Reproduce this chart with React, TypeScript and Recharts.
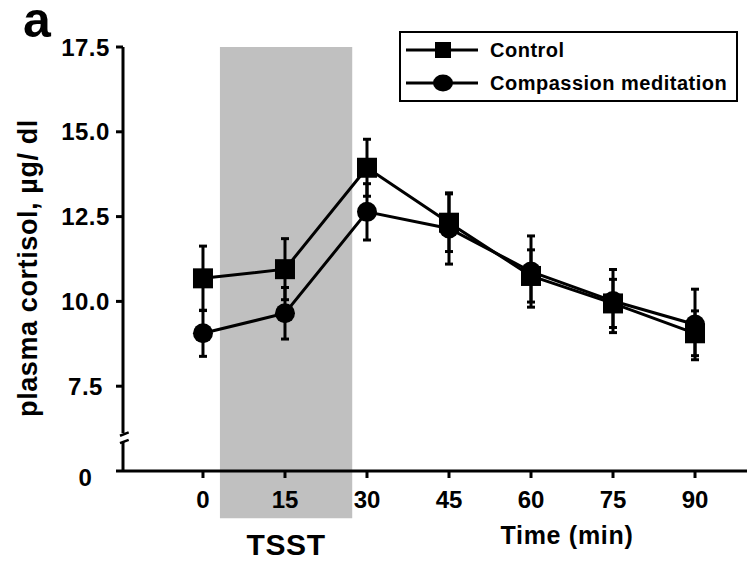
import React from 'react';
import {
  ComposedChart,
  Line,
  XAxis,
  YAxis,
  ErrorBar,
  ReferenceArea,
  ReferenceLine,
  Legend,
} from 'recharts';

// ---- data ----
const times = [0, 15, 30, 45, 60, 75, 90];
const controlMean = [10.68, 10.95, 13.94, 12.32, 10.75, 9.94, 9.06];
const controlSem = [0.95, 0.9, 0.84, 0.85, 0.77, 0.71, 0.66];
const compassionMean = [9.06, 9.65, 12.64, 12.15, 10.88, 10.01, 9.32];
const compassionSem = [0.68, 0.76, 0.83, 1.05, 1.05, 0.93, 1.04];

const xTicks = [0, 15, 30, 45, 60, 75, 90];
// broken axis: the bottom tick (5 on the internal scale) stands for 0
const yTicks = [5, 7.5, 10, 12.5, 15, 17.5];
const yTickLabels = ['0', '7.5', '10.0', '12.5', '15.0', '17.5'];
const tsstWindow = [3.1, 27.3];

const seriesInfo = [
  { key: 'control', name: 'Control', marker: 'square' },
  { key: 'compassion', name: 'Compassion meditation', marker: 'circle' },
];

const data = times.map((t, i) => ({
  t,
  control: controlMean[i],
  controlErr: controlSem[i],
  compassion: compassionMean[i],
  compassionErr: compassionSem[i],
}));

const FONT = '"Liberation Sans", Arial, Helvetica, sans-serif';
const X_MIN = -14.63;
const X_MAX = 99.51;
const Y_MIN = 5;
const Y_MAX = 17.5;
const BREAK_TOP = 6.12;
const BREAK_BOTTOM = 5.855;

const YTick = (props: any) => {
  const { x, y, payload } = props;
  const idx = yTicks.indexOf(payload.value);
  const label = idx >= 0 ? yTickLabels[idx] : String(payload.value);
  const isZero = idx === 0;
  return (
    <text
      x={x - 25.5}
      y={y + (isZero ? 6 : 0)}
      textAnchor="middle"
      dominantBaseline="central"
      fontSize={24}
      fontWeight="bold"
      fontFamily={FONT}
      letterSpacing={0.5}
      fill="#000"
    >
      {label}
    </text>
  );
};

const SquareDot = (props: any) => {
  const { cx, cy, index } = props;
  if (cx == null || cy == null) return <g key={`sq-${index}`} />;
  return <rect key={`sq-${index}`} x={cx - 10} y={cy - 10} width={20} height={20} fill="#000" />;
};

const LegendBox = () => (
  <div
    style={{
      width: 339,
      height: 71,
      border: '2px solid #000',
      boxSizing: 'border-box',
      background: '#fff',
    }}
  >
    <svg width={335} height={67} style={{ display: 'block' }}>
      {seriesInfo.map((s, i) => {
        const cy = 17 + i * 33;
        return (
          <g key={s.key}>
            <line x1={5} x2={77} y1={cy} y2={cy} stroke="#000" strokeWidth={3} />
            {s.marker === 'square' ? (
              <rect x={34} y={cy - 8} width={16} height={16} fill="#000" />
            ) : (
              <ellipse cx={42} cy={cy} rx={10} ry={8.5} fill="#000" />
            )}
            <text
              x={89}
              y={cy}
              dominantBaseline="central"
              fontSize={20}
              fontWeight="bold"
              fontFamily={FONT}
              letterSpacing={0.5}
              fill="#000"
            >
              {s.name}
            </text>
          </g>
        );
      })}
    </svg>
  </div>
);

export default function App() {
  return (
    <div style={{ position: 'absolute', left: 0, top: 0, width: 747, height: 564, background: '#fff' }}>
      <svg
        width={70}
        height={46}
        style={{ position: 'absolute', left: 0, top: 0, zIndex: 2, display: 'block' }}
      >
        <text x={23} y={37} fontSize={50} fontWeight="bold" fontFamily={FONT} fill="#000">
          a
        </text>
      </svg>
      <ComposedChart
        width={747}
        height={564}
        data={data}
        margin={{ top: 47, right: 0, bottom: 0, left: 0 }}
      >
        <ReferenceArea
          x1={tsstWindow[0]}
          x2={tsstWindow[1]}
          y1={3.61}
          y2={Y_MAX}
          fill="#c0c0c0"
          fillOpacity={1}
          stroke="none"
          ifOverflow="visible"
          label={{
            value: 'TSST',
            position: 'bottom',
            offset: 16,
            fontSize: 30,
            fontWeight: 'bold',
            fontFamily: FONT,
            fill: '#000',
            letterSpacing: 0.6,
          }}
        />
        <XAxis
          dataKey="t"
          type="number"
          domain={[X_MIN, X_MAX]}
          ticks={xTicks}
          allowDataOverflow
          height={93}
          axisLine={{ stroke: '#000', strokeWidth: 3 }}
          tickLine={{ stroke: '#000', strokeWidth: 3 }}
          tickSize={7}
          tickMargin={13}
          tick={{ fontSize: 24, fontWeight: 'bold', fontFamily: FONT, fill: '#000' }}
          label={{
            content: () => (
              <text
                x={567}
                y={535}
                textAnchor="middle"
                dominantBaseline="central"
                fontSize={25}
                fontWeight="bold"
                fontFamily={FONT}
                letterSpacing={0.7}
                fill="#000"
              >
                Time (min)
              </text>
            ),
          }}
        />
        <YAxis
          type="number"
          domain={[Y_MIN, Y_MAX]}
          ticks={yTicks}
          allowDataOverflow
          width={123}
          axisLine={false}
          tickLine={{ stroke: '#000', strokeWidth: 3 }}
          tickSize={7}
          tickMargin={5}
          tick={<YTick />}
          label={{
            content: () => (
              <text
                x={28}
                y={268}
                transform="rotate(-90, 28, 268)"
                textAnchor="middle"
                dominantBaseline="central"
                fontSize={27}
                fontWeight="bold"
                fontFamily={FONT}
                letterSpacing={0.6}
                fill="#000"
              >
                plasma cortisol, µg/ dl
              </text>
            ),
          }}
        />
        {/* broken y axis */}
        <ReferenceLine
          segment={[{ x: X_MIN, y: Y_MAX }, { x: X_MIN, y: BREAK_TOP }]}
          stroke="#000"
          strokeWidth={3}
          ifOverflow="visible"
        />
        <ReferenceLine
          segment={[{ x: X_MIN, y: BREAK_BOTTOM }, { x: X_MIN, y: Y_MIN }]}
          stroke="#000"
          strokeWidth={3}
          ifOverflow="visible"
        />
        <ReferenceLine
          segment={[{ x: -15.18, y: 6.04 }, { x: -13.59, y: 6.14 }]}
          stroke="#000"
          strokeWidth={2.5}
          ifOverflow="visible"
        />
        <ReferenceLine
          segment={[{ x: -15.18, y: 5.82 }, { x: -13.59, y: 5.92 }]}
          stroke="#000"
          strokeWidth={2.5}
          ifOverflow="visible"
        />
        <Legend
          layout="horizontal"
          verticalAlign="middle"
          align="center"
          content={<LegendBox />}
          wrapperStyle={{ position: 'absolute', left: 399, top: 31, width: 339, height: 71 }}
        />
        <Line
          dataKey="compassion"
          name="Compassion meditation"
          stroke="#000"
          strokeWidth={3}
          dot={{ r: 10, fill: '#000', stroke: 'none' }}
          activeDot={false}
          isAnimationActive={false}
        >
          <ErrorBar dataKey="compassionErr" direction="y" width={4} stroke="#000" strokeWidth={3} />
        </Line>
        <Line
          dataKey="control"
          name="Control"
          stroke="#000"
          strokeWidth={3}
          dot={<SquareDot />}
          activeDot={false}
          isAnimationActive={false}
        >
          <ErrorBar dataKey="controlErr" direction="y" width={4} stroke="#000" strokeWidth={3} />
        </Line>
      </ComposedChart>
    </div>
  );
}
